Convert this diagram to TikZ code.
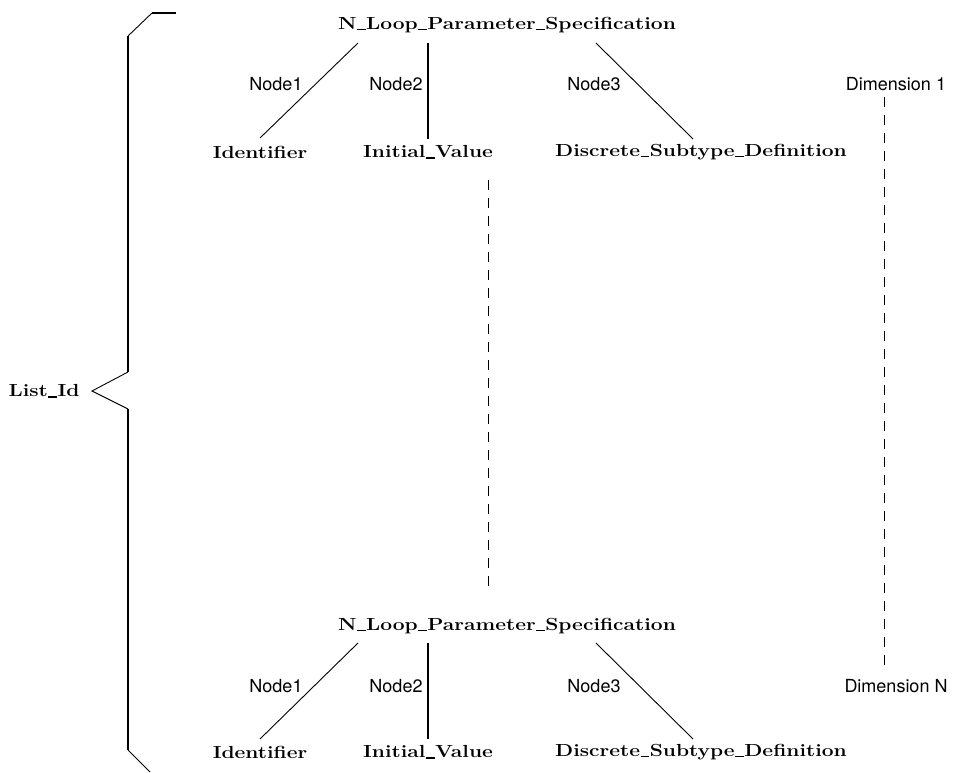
\documentclass[tikz,border=0pt]{standalone}
\usepackage{fontspec}
\newfontfamily\labfont{TeX Gyre Heros}
\newcommand\us{\kern0.02em\rule[-0.12ex]{0.42em}{0.09em}\kern0.02em}
\newcommand\wide[1]{\scalebox{1.2}[1]{#1}}
\begin{document}
\begin{tikzpicture}[x=1pt,y=-1pt,
  tnode/.style={inner sep=0pt,font=\fontsize{17.5}{20}\selectfont\bfseries},
  lab/.style={inner sep=0pt,font=\fontsize{18}{20}\labfont},
  thin/.style={line width=0.9pt},
  thick3/.style={line width=2.6pt},
  dashline/.style={line width=0.9pt,dash pattern=on 10pt off 8pt},
  bracel/.style={line width=2.6pt}]
\useasboundingbox (0,0) rectangle (954,773);
% top tree
\node[tnode] (r1) at (507,25) {\wide{N\us Loop\us Parameter\us Specification}};
\node[tnode] (id1) at (260,152) {\wide{Identifier}};
\node[tnode] (iv1) at (428,152) {\wide{Initial\us Value}};
\node[tnode] (ds1) at (701,152) {\wide{Discrete\us Subtype\us Definition}};
\node[lab] (n1a) at (276,84) {Node1};
\node[lab] (n2a) at (396,84) {Node2};
\node[lab] (n3a) at (594,84) {Node3};
\coordinate (a1) at (358,43); \coordinate (b1) at (260,138);
\coordinate (a2) at (428,43); \coordinate (b2) at (428,139);
\coordinate (a3) at (596,43); \coordinate (b3) at (693,139);
\draw[thin] (a1) -- (b1);
\draw[thick3] (a2) -- (b2);
\draw[thin] (a3) -- (b3);
% bottom tree
\node[tnode] (r2) at (507,626) {\wide{N\us Loop\us Parameter\us Specification}};
\node[tnode] (id2) at (260,752) {\wide{Identifier}};
\node[tnode] (iv2) at (428,752) {\wide{Initial\us Value}};
\node[tnode] (ds2) at (701,752) {\wide{Discrete\us Subtype\us Definition}};
\node[lab] (n1b) at (276,686) {Node1};
\node[lab] (n2b) at (396,686) {Node2};
\node[lab] (n3b) at (594,686) {Node3};
\coordinate (c1) at (358,643); \coordinate (d1) at (260,739);
\coordinate (c2) at (428,643); \coordinate (d2) at (428,739);
\coordinate (c3) at (596,643); \coordinate (d3) at (693,739);
\draw[thin] (c1) -- (d1);
\draw[thick3] (c2) -- (d2);
\draw[thin] (c3) -- (d3);
% dimensions
\node[lab] (dim1) at (896,84) {Dimension 1};
\node[lab] (dimN) at (896,686) {Dimension N};
\coordinate (e1) at (884,97); \coordinate (e2) at (884,665);
\draw[dashline] (e1) -- (e2);
\coordinate (m1) at (488,180); \coordinate (m2) at (488,590);
\draw[dashline] (m1) -- (m2);
% brace
\node[tnode] (lid) at (44,391) {\wide{List\us Id}};
\draw[bracel] (176,13) -- (152,13);
\draw[thin] (152,13) -- (128,36);
\draw[bracel] (128,36) -- (128,372);
\draw[thin] (128,372) -- (92,391) -- (128,409);
\draw[bracel] (128,409) -- (128,750);
\draw[thin] (128,750) -- (150,772);
\end{tikzpicture}
\end{document}
